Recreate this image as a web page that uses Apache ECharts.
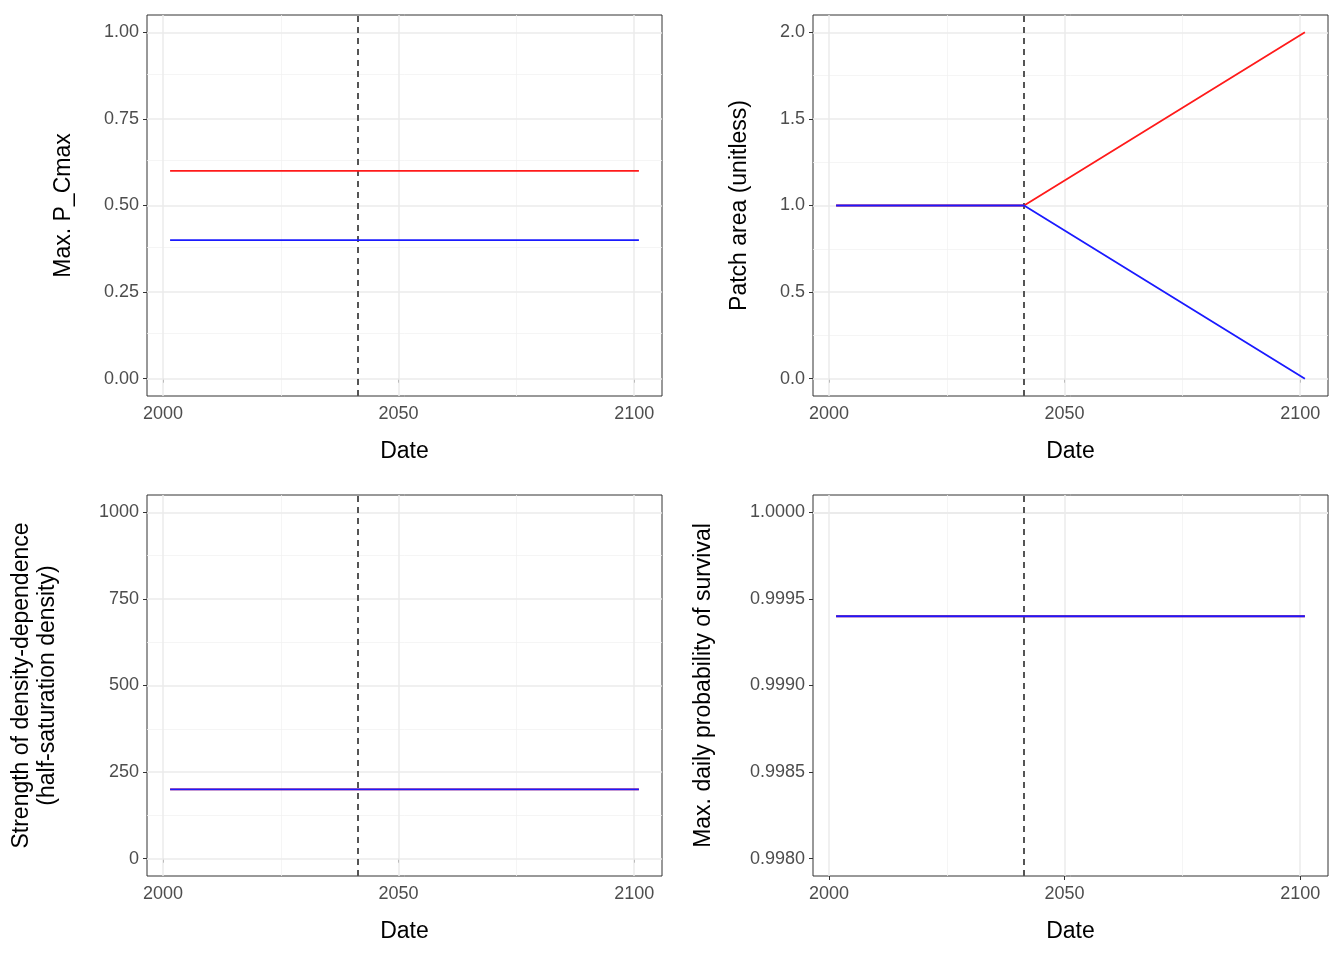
<!DOCTYPE html>
<html>
<head>
<meta charset="utf-8">
<script src="https://cdn.jsdelivr.net/npm/echarts@6/dist/echarts.min.js"></script>
<style>html,body{margin:0;background:#fff}#main{width:1344px;height:960px}</style>
</head>
<body>
<div id="main"></div>
<script>
// data
var startYear = 2001.5, breakYear = 2041.4, endYear = 2101;
var xTicks = [2000, 2050, 2100];
var xMinor = [2025, 2075];

var pcmaxRed = [[startYear, 0.6], [endYear, 0.6]];
var pcmaxBlue = [[startYear, 0.4], [endYear, 0.4]];
var areaRed = [[startYear, 1], [breakYear, 1], [endYear, 2]];
var areaBlue = [[startYear, 1], [breakYear, 1], [endYear, 0]];
var ddRed = [[startYear, 200], [endYear, 200]];
var ddBlue = [[startYear, 200], [endYear, 200]];
var survRed = [[startYear, 0.9994], [endYear, 0.9994]];
var survBlue = [[startYear, 0.9994], [endYear, 0.9994]];

var panels = [
  {left: 147, top: 15, name: 'Max. P_Cmax', gap: 70, yTicks: [0, 0.25, 0.5, 0.75, 1], dec: 2, red: pcmaxRed, blue: pcmaxBlue},
  {left: 813, top: 15, name: 'Patch area (unitless)', gap: 60, yTicks: [0, 0.5, 1, 1.5, 2], dec: 1, red: areaRed, blue: areaBlue},
  {left: 147, top: 495, name: 'Strength of density-dependence\n(half-saturation density)', gap: 86, yTicks: [0, 250, 500, 750, 1000], dec: 0, red: ddRed, blue: ddBlue},
  {left: 813, top: 495, name: 'Max. daily probability of survival', gap: 96, yTicks: [0.998, 0.9985, 0.999, 0.9995, 1], dec: 4, red: survRed, blue: survBlue}
];

var font = 'Liberation Sans, Arial, sans-serif';
var xMin = 1996.6, xMax = 2105.9;
var grid = [], xAxis = [], yAxis = [], series = [];

panels.forEach(function (p, i) {
  var t = p.yTicks, step = t[1] - t[0];
  var yMin = t[0] - (t[t.length - 1] - t[0]) * 0.05;
  var yMax = t[t.length - 1] + (t[t.length - 1] - t[0]) * 0.05;
  var yMinor = [];
  for (var k = 0; k < t.length - 1; k++) yMinor.push(t[k] + step / 2);

  grid.push({left: p.left, top: p.top, width: 515, height: 381, show: true,
    borderColor: '#333', borderWidth: 1, backgroundColor: 'transparent'});
  xAxis.push({type: 'value', gridIndex: i, min: xMin, max: xMax,
    name: 'Date', nameLocation: 'middle', nameGap: 44,
    nameTextStyle: {color: '#000', fontSize: 23, fontFamily: font},
    axisLine: {show: false}, splitLine: {show: false},
    axisTick: {show: true, length: 4, lineStyle: {color: '#333'}, customValues: xTicks},
    axisLabel: {color: '#4D4D4D', fontSize: 18, fontFamily: font, margin: 9, customValues: xTicks,
      formatter: function (v) { return String(Math.round(v)); }}});
  yAxis.push({type: 'value', gridIndex: i, min: yMin, max: yMax,
    name: p.name, nameLocation: 'middle', nameGap: p.gap,
    nameTextStyle: {color: '#000', fontSize: 23, fontFamily: font, lineHeight: 26},
    axisLine: {show: false}, splitLine: {show: false},
    axisTick: {show: true, length: 4, lineStyle: {color: '#333'}, customValues: t},
    axisLabel: {color: '#4D4D4D', fontSize: 18, fontFamily: font, margin: 8, customValues: t,
      formatter: function (v) { return v.toFixed(p.dec); }}});

  var gl = [];
  xMinor.forEach(function (v) { gl.push({xAxis: v, lineStyle: {color: '#F2F2F2', width: 0.8, type: 'solid'}}); });
  yMinor.forEach(function (v) { gl.push({yAxis: v, lineStyle: {color: '#F2F2F2', width: 0.8, type: 'solid'}}); });
  xTicks.forEach(function (v) { gl.push({xAxis: v, lineStyle: {color: '#EBEBEB', width: 1.5, type: 'solid'}}); });
  t.forEach(function (v) { gl.push({yAxis: v, lineStyle: {color: '#EBEBEB', width: 1.5, type: 'solid'}}); });
  gl.push({xAxis: breakYear, lineStyle: {color: '#555', width: 2, type: [6, 5]}});

  series.push({type: 'line', xAxisIndex: i, yAxisIndex: i, data: [], silent: true, z: 0,
    markLine: {silent: true, symbol: 'none', label: {show: false}, animation: false, data: gl}});
  series.push({type: 'line', xAxisIndex: i, yAxisIndex: i, data: p.red, showSymbol: false, zlevel: 1,
    lineStyle: {color: '#FF1A1A', width: 1.8}, z: 3});
  series.push({type: 'line', xAxisIndex: i, yAxisIndex: i, data: p.blue, showSymbol: false, zlevel: 1,
    lineStyle: {color: '#1A1AFF', width: 1.8}, z: 4});
});

var chart = echarts.init(document.getElementById('main'));
chart.setOption({animation: false, grid: grid, xAxis: xAxis, yAxis: yAxis, series: series});
</script>
</body>
</html>
